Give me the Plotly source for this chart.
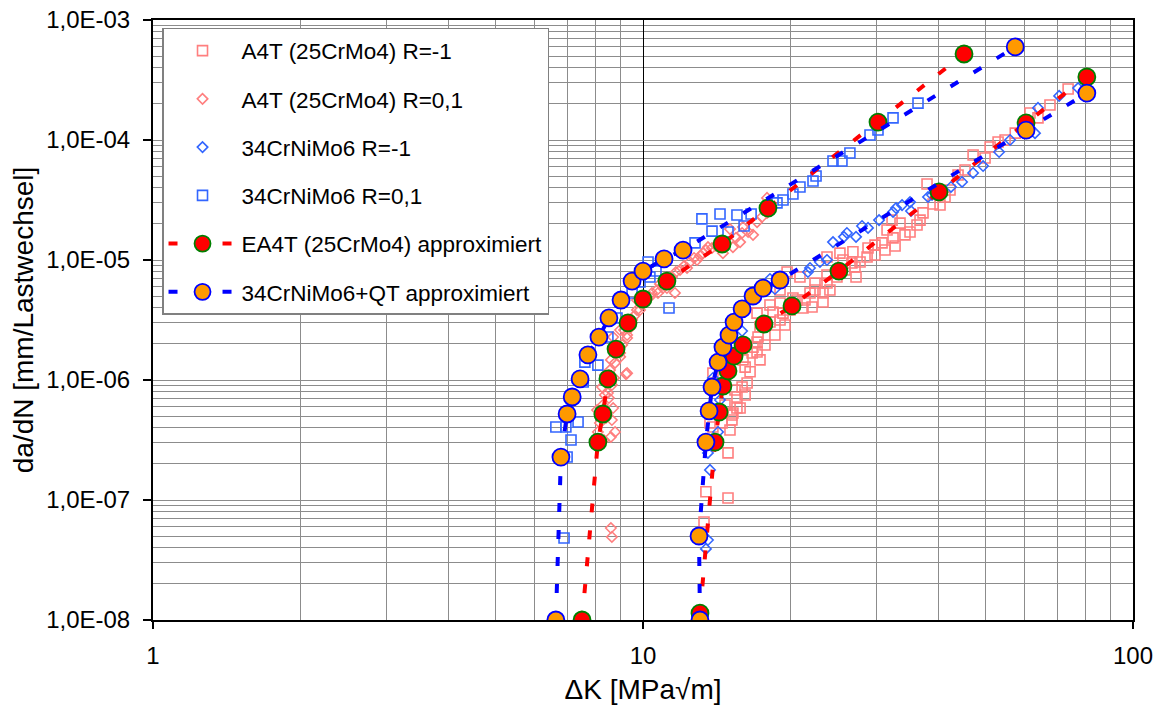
import plotly.graph_objects as go

# ---------------- data ----------------
# A4T (25CrMo4) R=-1  (open squares, light red)
a4t_rm1_dk = [13.32, 13.44, 14.91, 14.91, 13.70, 13.89, 14.50, 15.19, 15.05, 15.78,
              15.26, 15.55, 15.55, 15.19, 16.31, 15.93, 13.89, 16.16, 16.70, 16.00,
              17.09, 15.78, 16.77, 17.09, 17.17, 18.16, 17.74, 19.31, 17.33, 18.42,
              19.04, 20.62, 21.92, 23.30, 23.74, 18.16, 17.09, 19.04, 19.04, 20.23,
              21.21, 22.13, 22.44, 23.30, 19.68, 20.91, 23.74, 24.88, 25.59, 25.23,
              23.74, 26.69, 26.82, 27.08, 27.21, 28.66, 28.79, 29.75, 30.75, 31.48,
              32.23, 32.38, 33.46, 34.25, 36.24, 37.28, 39.08, 37.99, 41.34, 43.95,
              47.17, 51.10, 53.05, 54.82, 57.50, 61.63, 63.99, 73.72,
              14.70, 15.41, 16.16, 16.54, 17.33, 17.74, 18.59, 19.49, 19.95, 21.41,
              22.44, 24.07, 25.83, 27.73, 29.75, 31.18, 32.69, 35.07, 36.76, 40.38,
              42.32, 45.42, 49.90, 67.70]
a4t_rm1_dadn = [6.56e-8, 1.17e-7, 1.04e-7, 2.47e-7, 4.38e-7, 4.06e-7, 4.38e-7, 4.64e-7, 3.83e-7, 5.84e-7,
                5.31e-7, 7.22e-7, 5.84e-7, 5.11e-7, 9.44e-7, 8.74e-7, 1.14e-6, 1.28e-6, 1.68e-6, 1.47e-6,
                2.07e-6, 1.85e-6, 1.88e-6, 1.71e-6, 2.28e-6, 3.04e-6, 3.04e-6, 3.61e-6, 2.77e-6, 3.69e-6,
                3.16e-6, 4.64e-6, 5.31e-6, 5.31e-6, 6.43e-6, 4.22e-6, 3.61e-6, 5.62e-6, 4.38e-6, 4.82e-6,
                3.98e-6, 4.06e-6, 5.62e-6, 4.47e-6, 7.94e-6, 7.22e-6, 7.50e-6, 7.22e-6, 1.00e-5, 1.14e-5,
                1.06e-5, 9.44e-6, 1.17e-5, 8.74e-6, 7.22e-6, 1.06e-5, 1.26e-5, 1.33e-5, 1.39e-5, 1.78e-5,
                2.15e-5, 1.53e-5, 2.03e-5, 1.62e-5, 1.96e-5, 2.47e-5, 2.93e-5, 4.30e-5, 3.35e-5, 5.11e-5,
                7.50e-5, 8.74e-5, 9.62e-5, 1.00e-4, 1.14e-4, 1.68e-4, 1.53e-4, 2.66e-4,
                6.19e-7, 8.25e-7, 7.50e-7, 1.17e-6, 1.47e-6, 1.96e-6, 2.37e-6, 2.87e-6, 3.83e-6, 4.64e-6,
                6.43e-6, 5.62e-6, 8.25e-6, 9.62e-6, 1.10e-5, 1.21e-5, 1.31e-5, 1.71e-5, 2.15e-5, 2.87e-5,
                3.83e-5, 5.62e-5, 7.08e-5, 1.96e-4]

# A4T (25CrMo4) R=0,1  (open diamonds, light red)
a4t_r01_dk = [8.06, 8.69, 8.17, 8.09, 8.60, 8.60, 8.64, 8.36, 8.25, 8.36,
              9.23, 8.77, 8.98, 8.85, 9.28, 9.32, 9.72, 10.73, 11.62, 11.19,
              8.48, 8.56, 9.28, 8.98, 8.69, 9.28, 8.98, 9.50, 9.86, 9.72,
              10.33, 10.68, 10.98, 11.46, 11.90, 12.30, 12.47, 12.89, 13.26, 13.83,
              14.56, 15.26, 13.57, 15.78, 15.93, 16.77, 17.09, 17.49, 17.91, 15.05,
              16.00, 17.91,
              8.28, 8.40, 8.52, 8.64, 8.73, 8.60, 8.81, 9.07, 9.15, 9.41,
              9.59, 9.95, 10.14, 10.43, 10.83, 11.14, 11.67, 12.13, 12.71, 13.07,
              13.44, 14.10, 14.77, 15.48, 16.39, 8.64, 8.32, 8.77]
a4t_r01_dadn = [5.62e-7, 5.84e-7, 4.38e-7, 3.69e-7, 3.35e-7, 5.84e-8, 4.92e-8, 7.50e-7, 8.74e-7, 1.10e-6,
                1.12e-6, 1.39e-6, 1.56e-6, 1.85e-6, 2.37e-6, 2.99e-6, 3.83e-6, 5.31e-6, 5.31e-6, 5.84e-6,
                7.79e-7, 1.21e-6, 1.14e-6, 1.68e-6, 2.28e-6, 2.24e-6, 2.61e-6, 3.16e-6, 3.83e-6, 4.64e-6,
                4.92e-6, 5.62e-6, 5.84e-6, 7.22e-6, 8.25e-6, 8.58e-6, 9.62e-6, 1.00e-5, 1.14e-5, 1.26e-5,
                1.14e-5, 1.28e-5, 1.28e-5, 1.41e-5, 1.68e-5, 1.62e-5, 2.07e-5, 2.28e-5, 2.47e-5, 1.81e-5,
                1.88e-5, 3.29e-5,
                6.19e-7, 4.82e-7, 7.08e-7, 9.08e-7, 1.04e-6, 1.47e-6, 1.78e-6, 1.96e-6, 2.61e-6, 2.71e-6,
                3.41e-6, 4.22e-6, 4.64e-6, 5.31e-6, 6.31e-6, 6.81e-6, 7.94e-6, 8.91e-6, 1.04e-5, 1.08e-5,
                1.21e-5, 1.31e-5, 1.39e-5, 1.53e-5, 1.71e-5, 4.64e-7, 3.16e-7, 3.69e-7]

# 34CrNiMo6 R=-1  (open diamonds, blue)
crni_rm1_dk = [13.44, 13.57, 13.57, 13.70, 14.23, 13.89, 14.36, 15.93, 18.16, 18.59,
               21.71, 21.92, 22.97, 23.74, 24.42, 25.71, 26.07, 27.21, 27.99, 28.79,
               30.32, 32.38, 32.84, 33.78, 35.07, 35.24, 38.17, 38.89, 42.52, 44.79,
               47.17, 49.44, 53.30, 56.13, 63.10, 63.99, 70.67, 77.27]
crni_rm1_dadn = [3.91e-8, 4.64e-8, 2.47e-7, 1.78e-7, 3.69e-7, 1.04e-6, 6.81e-7, 2.56e-6, 6.95e-6, 5.73e-6,
                 7.94e-6, 8.58e-6, 9.62e-6, 1.00e-5, 1.41e-5, 1.56e-5, 1.68e-5, 1.56e-5, 1.92e-5, 1.85e-5,
                 2.15e-5, 2.51e-5, 2.71e-5, 2.87e-5, 3.04e-5, 2.56e-5, 3.35e-5, 3.48e-5, 4.06e-5, 4.47e-5,
                 5.31e-5, 6.07e-5, 7.94e-5, 1.00e-4, 1.14e-4, 1.85e-4, 2.33e-4, 2.71e-4]

# 34CrNiMo6 R=0,1  (open squares, blue)
crni_r01_dk = [6.64, 6.96, 7.37, 7.13, 7.00, 6.90, 7.55, 7.61, 8.09, 8.48,
               8.85, 9.50, 9.86, 10.24, 10.33, 10.63, 11.30, 12.77, 13.19, 13.83,
               14.36, 14.91, 15.55, 16.08, 16.62, 18.77, 19.31, 20.23, 20.91, 22.23,
               22.55, 24.42, 25.47, 26.44, 29.06, 30.17, 32.38, 36.41]
crni_r01_dadn = [4.06e-7, 4.06e-7, 4.47e-7, 3.16e-7, 2.28e-7, 4.82e-8, 9.62e-7, 1.41e-6, 1.33e-6, 2.28e-6,
                 3.29e-6, 5.31e-6, 6.56e-6, 9.62e-6, 7.22e-6, 8.09e-6, 3.98e-6, 1.39e-5, 2.20e-5, 1.74e-5,
                 2.42e-5, 1.71e-5, 2.37e-5, 1.92e-5, 2.42e-5, 2.99e-5, 3.16e-5, 3.55e-5, 4.06e-5, 4.55e-5,
                 5.01e-5, 6.68e-5, 6.68e-5, 7.79e-5, 1.10e-4, 1.21e-4, 1.53e-4, 2.03e-4]

# EA4T (25CrMo4) approximiert: branch R=0,1 and branch R=-1
ea4t_r01_dk = [7.51, 8.09, 8.28, 8.48, 8.81, 9.32, 10.0, 11.19, 14.50, 17.99, 30.17, 45.2]
ea4t_r01_dadn = [1.0e-8, 3.04e-7, 5.21e-7, 1.02e-6, 1.81e-6, 2.99e-6, 4.73e-6, 6.68e-6, 1.36e-5, 2.71e-5, 1.41e-4, 5.21e-4]
ea4t_rm1_dk = [13.07, 14.03, 14.30, 14.56, 14.91, 15.34, 16.0, 17.66, 20.14, 25.11, 40.19, 60.5, 80.5]
ea4t_rm1_dadn = [1.14e-8, 3.04e-7, 5.41e-7, 8.91e-7, 1.19e-6, 1.58e-6, 1.96e-6, 2.93e-6, 4.14e-6, 8.09e-6, 3.69e-5, 1.39e-4, 3.35e-4]

# 34CrNiMo6+QT approximiert: branch R=0,1 and branch R=-1
qt_r01_dk = [6.64, 6.80, 7.00, 7.17, 7.44, 7.72, 8.13, 8.52, 9.02, 9.50, 10.0, 11.04, 12.07, 57.5]
qt_r01_dadn = [1.0e-8, 2.28e-7, 5.21e-7, 7.22e-7, 1.02e-6, 1.62e-6, 2.28e-6, 3.29e-6, 4.64e-6, 6.68e-6, 8.09e-6, 1.02e-5, 1.21e-5, 5.96e-4]
qt_rm1_dk = [13.07, 13.01, 13.44, 13.64, 13.83, 14.23, 14.56, 14.98, 15.34, 15.93, 16.77, 17.58, 19.04, 60.5, 80.5]
qt_rm1_dadn = [1.0e-8, 5.01e-8, 3.04e-7, 5.52e-7, 8.74e-7, 1.41e-6, 1.88e-6, 2.37e-6, 3.04e-6, 3.91e-6, 5.01e-6, 5.84e-6, 6.81e-6, 1.21e-4, 2.46e-4]

x_tickvals = [1, 10, 100]
x_ticktext = ["1", "10", "100"]
y_tickvals = [1e-8, 1e-7, 1e-6, 1e-5, 1e-4, 1e-3]
y_ticktext = ["1,0E-08", "1,0E-07", "1,0E-06", "1,0E-05", "1,0E-04", "1,0E-03"]

# ---------------- figure ----------------
PINK = "#FF7F7F"
BLUE = "#3366FF"
FONT = "Arial, Liberation Sans, sans-serif"

fig = go.Figure()

def scatter(x, y, name, symbol, color, size, grp):
    fig.add_trace(go.Scatter(
        x=x, y=y, mode="markers", name=name, legendgroup=grp,
        marker=dict(symbol=symbol, size=size, color=color,
                    line=dict(color=color, width=1.6)),
    ))

scatter(a4t_rm1_dk, a4t_rm1_dadn, "A4T (25CrMo4) R=-1", "square-open", PINK, 10, "g1")
scatter(a4t_r01_dk, a4t_r01_dadn, "A4T (25CrMo4) R=0,1", "diamond-open", PINK, 8, "g2")
scatter(crni_rm1_dk, crni_rm1_dadn, "34CrNiMo6 R=-1", "diamond-open", BLUE, 8, "g3")
scatter(crni_r01_dk, crni_r01_dadn, "34CrNiMo6 R=0,1", "square-open", BLUE, 10, "g4")

fig.add_trace(go.Scatter(
    x=ea4t_r01_dk + [None] + ea4t_rm1_dk,
    y=ea4t_r01_dadn + [None] + ea4t_rm1_dadn,
    mode="lines+markers", name="EA4T (25CrMo4) approximiert", legendgroup="g5",
    connectgaps=False,
    line=dict(color="#FF0000", width=4, dash="9px,18px"),
    marker=dict(symbol="circle", size=17, color="#FF0000", line=dict(color="#008000", width=1.8)),
))
fig.add_trace(go.Scatter(
    x=qt_r01_dk + [None] + qt_rm1_dk,
    y=qt_r01_dadn + [None] + qt_rm1_dadn,
    mode="lines+markers", name="34CrNiMo6+QT approximiert", legendgroup="g6",
    connectgaps=False,
    line=dict(color="#0000FF", width=4, dash="9px,18px"),
    marker=dict(symbol="circle", size=17, color="#FF9900", line=dict(color="#0000FF", width=1.8)),
))

fig.update_layout(
    width=1162, height=711,
    margin=dict(l=153, r=29, t=20, b=91, autoexpand=False),
    paper_bgcolor="white", plot_bgcolor="white",
    font=dict(family=FONT, size=24, color="black"),
    showlegend=True,
    hovermode=False,
    legend=dict(
        x=0.0092, y=0.9867, xanchor="left", yanchor="top",
        bgcolor="white", bordercolor="#808080", borderwidth=1.5,
        font=dict(family=FONT, size=22.5, color="black"),
        itemwidth=68, tracegroupgap=16, traceorder="grouped",
    ),
    xaxis=dict(
        type="log", range=[0, 2], autorange=False,
        tickmode="array", tickvals=x_tickvals, ticktext=x_ticktext,
        ticks="outside", ticklen=7, tickcolor="black", tickwidth=1.5,
        showline=True, linecolor="black", linewidth=2, mirror=True,
        showgrid=True, gridcolor="#000000", gridwidth=1,
        minor=dict(dtick="D1", showgrid=True, gridcolor="#8c8c8c", gridwidth=1, ticks=""),
        zeroline=False,
        title=dict(text="ΔK [MPa√m]", font=dict(family=FONT, size=28), standoff=12),
        tickfont=dict(family=FONT, size=24),
        ticklabelstandoff=6, ticklabeloverflow="allow",
    ),
    yaxis=dict(
        type="log", range=[-8, -3], autorange=False,
        tickmode="array", tickvals=y_tickvals, ticktext=y_ticktext,
        ticks="outside", ticklen=8, tickcolor="black", tickwidth=1.5,
        showline=True, linecolor="black", linewidth=2, mirror=True,
        showgrid=True, gridcolor="#8c8c8c", gridwidth=1,
        minor=dict(dtick="D1", showgrid=True, gridcolor="#8c8c8c", gridwidth=1, ticks=""),
        zeroline=False,
        title=dict(text="da/dN [mm/Lastwechsel]", font=dict(family=FONT, size=28), standoff=4),
        tickfont=dict(family=FONT, size=24),
        ticklabelstandoff=8, ticklabeloverflow="allow",
    ),
)

# remove the default 8px page margin so the figure sits at the window's corner
fig.write_html("out.html",
               config={"displayModeBar": False, "staticPlot": True},
               post_script="document.body.style.margin='0';document.body.style.overflow='hidden';")
